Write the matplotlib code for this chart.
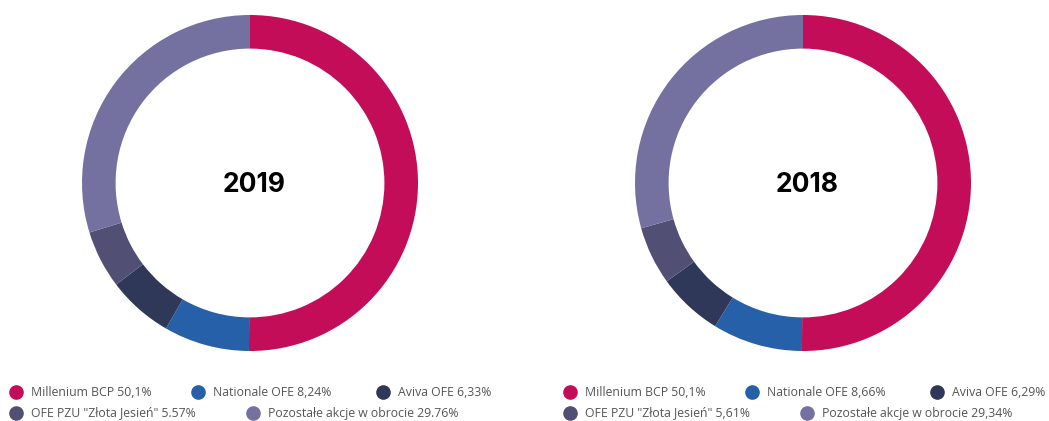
"""Shareholder structure donuts, 2019 vs 2018."""

import matplotlib

matplotlib.use("Agg")
import matplotlib.pyplot as plt  # noqa: E402

W, H = 1049, 421

YEARS = ["2019", "2018"]
LABELS = [
    "Millenium BCP",
    "Nationale OFE",
    "Aviva OFE",
    'OFE PZU "Złota Jesień"',
    "Pozostałe akcje w obrocie",
]
SHARES_2019 = [50.1, 8.24, 6.33, 5.57, 29.76]
SHARES_2018 = [50.1, 8.66, 6.29, 5.61, 29.34]
PCT_TEXT_2019 = ["50,1%", "8,24%", "6,33%", "5.57%", "29.76%"]
PCT_TEXT_2018 = ["50,1%", "8,66%", "6,29%", "5,61%", "29,34%"]
COLORS = ["#C40D58", "#2560A8", "#2F3858", "#524F75", "#7471A1"]

TEXT_COLOR = "#555555"
FONT = "Open Sans"


def px_axes(fig, cx, cy, r):
    # cx, cy in pixels from top-left
    return fig.add_axes([(cx - r) / W, 1 - (cy + r) / H, 2 * r / W, 2 * r / H])


def draw_donut(fig, cx, year, shares):
    ax = px_axes(fig, cx, 183, 168)
    ax.pie(
        shares,
        colors=COLORS,
        startangle=90,
        counterclock=False,
        radius=1.0,
        wedgeprops=dict(width=0.2, linewidth=0),
    )
    ax.set_xlim(-1, 1)
    ax.set_ylim(-1, 1)
    ax.set_aspect("equal")
    ax.axis("off")
    # title sits a few px right of the ring centre in the original
    ax.text(0.025, -0.01, year, ha="center", va="center", fontsize=19,
            fontweight="bold", family="Inter", color="black")


def draw_legend(fig, x0, pct_text):
    rows = [(0, 392, 0), (1, 392, 182), (2, 392, 367), (3, 413, 0), (4, 413, 237)]
    for idx, y, dx in rows:
        fx = (x0 + dx) / W
        fy = 1 - y / H
        fig.lines.append(plt.Line2D([fx], [fy], marker="o", markersize=9.5,
                                    color=COLORS[idx], transform=fig.transFigure,
                                    linestyle="none"))
        fig.text((x0 + dx + 15) / W, fy, f"{LABELS[idx]} {pct_text[idx]}",
                 ha="left", va="center", fontsize=8.8, family=FONT,
                 color=TEXT_COLOR)


def main():
    fig = plt.figure(figsize=(W / 100, H / 100), dpi=100)
    fig.patch.set_facecolor("white")
    draw_donut(fig, 250, YEARS[0], SHARES_2019)
    draw_donut(fig, 803, YEARS[1], SHARES_2018)
    draw_legend(fig, 16, PCT_TEXT_2019)
    draw_legend(fig, 570, PCT_TEXT_2018)
    fig.savefig("out.png", dpi=100)
    plt.close(fig)


if __name__ == "__main__":
    main()
